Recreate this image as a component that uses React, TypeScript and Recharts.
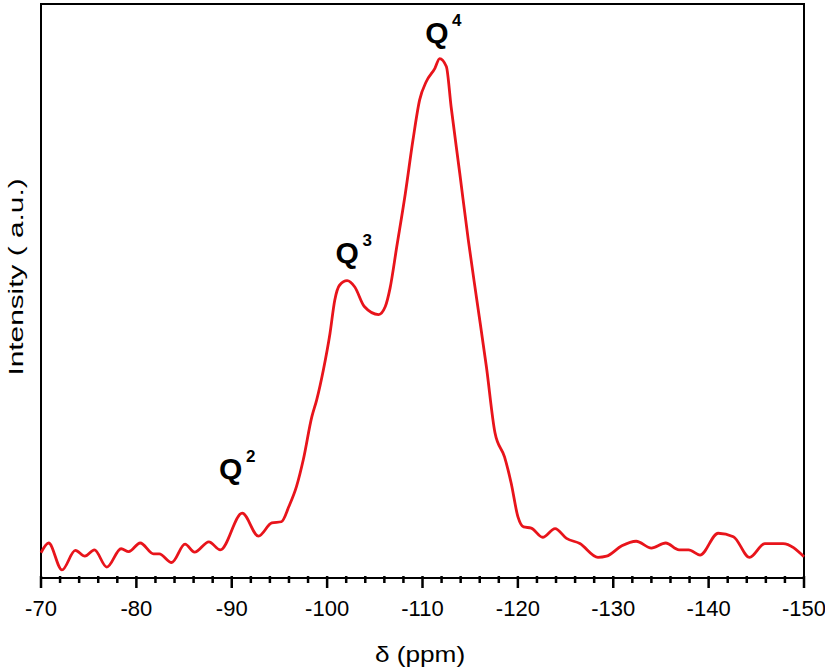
import React from 'react';
import { LineChart, Line, XAxis, YAxis, ReferenceArea, ReferenceDot } from 'recharts';

// chemical shift (ppm) and intensity (a.u., 0-100 scale)
const shifts = [
    -70.0, -70.8, -72.2, -73.6, -74.6, -75.6, -76.9, -78.4, -79.2, -80.4, -81.8, -82.4, -83.7,
    -85.1, -86.1, -87.6, -88.8, -91.1, -92.8, -94.2, -95.2, -96.0, -96.8, -97.5, -98.4, -98.9,
    -99.6, -100.3, -100.8, -101.3, -102.1, -102.9, -103.9, -105.4, -106.1, -106.6, -107.3,
    -108.2, -109.0, -109.7, -110.4, -111.3, -111.8, -112.5, -113.0, -113.9, -114.8, -115.7,
    -116.7, -117.6, -118.6, -119.3, -120.0, -120.6, -121.4, -122.6, -123.9, -125.1, -126.5,
    -128.4, -129.3, -130.9, -132.4, -134.0, -135.5, -136.9, -137.9, -139.1, -141.0, -142.6,
    -144.3, -145.9, -147.8, -150.0,
];
const intensity = [
    4.4, 6.1, 1.4, 4.8, 3.8, 4.9, 1.9, 5.1, 4.6, 6.1, 4.2, 4.2, 2.7,
    5.9, 4.5, 6.3, 4.9, 11.3, 7.3, 9.6, 9.8, 12.5, 16.0, 20.6, 28.1, 31.0,
    36.2, 42.6, 48.4, 51.0, 51.8, 50.7, 47.3, 45.9, 47.3, 50.5, 57.7,
    67.0, 76.3, 83.3, 86.5, 88.8, 90.5, 89.1, 82.1, 70.6, 58.9, 48.4,
    36.8, 25.3, 21.1, 16.5, 10.7, 8.9, 8.7, 7.1, 8.6, 6.9, 6.0,
    3.6, 3.8, 5.6, 6.4, 5.2, 6.1, 4.9, 4.9, 4.0, 7.8, 7.2,
    3.6, 6.0, 6.0, 3.7,
];

const xTicks = [
    -150, -148, -146, -144, -142, -140, -138, -136, -134, -132, -130, -128, -126, -124, -122,
    -120, -118, -116, -114, -112, -110, -108, -106, -104, -102, -100, -98, -96, -94, -92,
    -90, -88, -86, -84, -82, -80, -78, -76, -74, -72, -70,
];

// peak annotations
const peakNames = ['2', '3', '4'];
const peakShift = [-89.9, -102.1, -111.5];
const peakLevel = [17.2, 54.9, 93.2];

const data = shifts.map((ppm, i) => ({ ppm, value: intensity[i] }));

const FONT = '"Liberation Sans", Arial, sans-serif';

// tick mark + label; labels only on multiples of 10
const XTick = (props: any) => {
    const x = Number(props.x);
    const y = Number(props.y);
    const v = props.payload.value;
    const major = Math.abs(v) % 10 === 0;
    return (
        <g>
            <rect x={x - 1.25} y={y - 2} width={2.5} height={major ? 12 : 7} fill="#000" stroke="none" />
            {major && (
                <text x={x} y={y + 38} textAnchor="middle" fontSize={22} fill="#000" stroke="none" fontFamily={FONT}>
                    {v}
                </text>
            )}
        </g>
    );
};

const QLabel = (props: any) => {
    const { viewBox, n } = props;
    const cx = viewBox.x + viewBox.width / 2;
    const cy = viewBox.y + viewBox.height / 2;
    return (
        <g fontFamily={FONT} fontWeight="bold" fill="#000">
            <text x={cx} y={cy} textAnchor="middle" fontSize={30}>Q</text>
            <text x={cx + 20} y={cy - 17} textAnchor="middle" fontSize={17}>{n}</text>
        </g>
    );
};

const titleStyle: React.CSSProperties = {
    position: 'absolute',
    fontFamily: FONT,
    fontSize: 22,
    lineHeight: '22px',
    color: '#000',
    whiteSpace: 'nowrap',
};

export default function App() {
    return (
        <div style={{ position: 'absolute', left: 0, top: 0, width: 825, height: 667, background: '#fff' }}>
            <LineChart width={825} height={667} data={data} margin={{ top: 4, right: 21, bottom: 29, left: 0 }}>
                <XAxis
                    dataKey="ppm"
                    type="number"
                    domain={[-150, -70]}
                    reversed
                    ticks={xTicks}
                    interval={0}
                    tick={<XTick />}
                    tickSize={0}
                    tickMargin={0}
                    tickLine={false}
                    axisLine={false}
                    height={60}
                />
                <YAxis type="number" domain={[0, 100]} width={41} tick={false} tickLine={false} axisLine={false} />
                <ReferenceArea x1={-150} x2={-70} y1={0} y2={100} fill="none" stroke="#000" strokeWidth={2} />
                <Line
                    dataKey="value"
                    type="monotone"
                    stroke="#e8141b"
                    strokeWidth={2.8}
                    dot={false}
                    activeDot={false}
                    isAnimationActive={false}
                />
                {peakNames.map((n, i) => (
                    <ReferenceDot
                        key={n}
                        x={peakShift[i]}
                        y={peakLevel[i]}
                        r={1}
                        fill="none"
                        stroke="none"
                        label={{ content: (p: any) => <QLabel {...p} n={n} /> }}
                    />
                ))}
            </LineChart>
            {/* axis titles, slightly widened like the original figure */}
            <div
                style={{
                    ...titleStyle,
                    left: 420,
                    top: 644,
                    transform: 'translateX(-50%) scaleX(1.19)',
                }}
            >
                δ (ppm)
            </div>
            <div
                style={{
                    ...titleStyle,
                    fontSize: 21,
                    lineHeight: '21px',
                    left: 15,
                    top: 277,
                    transform: 'translate(-50%, -50%) rotate(-90deg) scaleX(1.42)',
                }}
            >
                Intensity ( a.u.)
            </div>
        </div>
    );
}
